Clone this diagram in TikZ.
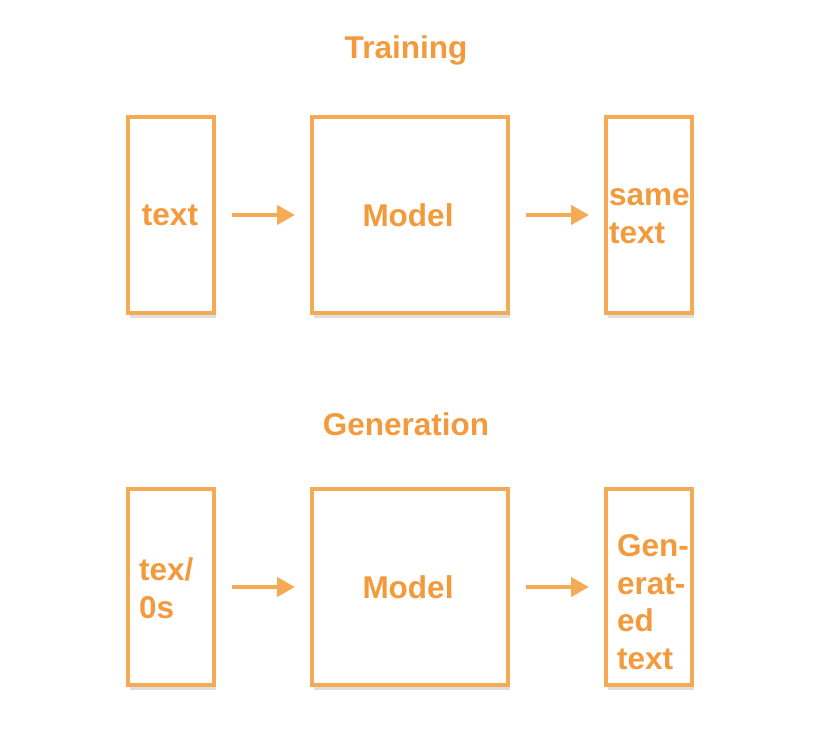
\documentclass[tikz,border=0pt]{standalone}
\usepackage{fontspec}
\setmainfont{Liberation Sans}
\usetikzlibrary{arrows.meta,shadows}
\definecolor{boxline}{HTML}{F5AB56}
\definecolor{boxtext}{HTML}{F29A3C}
\begin{document}
\begin{tikzpicture}[x=1pt,y=-1pt,
  blk/.style={draw=boxline,line width=4pt,fill=white,inner sep=0pt,minimum width=86pt,minimum height=196pt,
    drop shadow={opacity=.25,shadow xshift=2pt,shadow yshift=-4.5pt}},
  bigblk/.style={blk,minimum width=196pt},
  lbl/.style={text=boxtext,font=\bfseries\fontsize{31.5}{37.5}\selectfont,inner sep=0pt,align=left},
  flow/.style={draw=boxline,line width=4pt,-{Triangle[length=18pt,width=19pt]},shorten <=16pt,shorten >=15pt}]
\useasboundingbox (0,0) rectangle (814,754);
% training
\node[lbl] (traintitle) at (406,50) {Training};
\node[blk] (in1) at (171,215) {}; \node[bigblk] (mod1) at (410,215) {}; \node[blk] (out1) at (649,215) {};
\node[lbl] (in1txt) at (170,215) {text}; \node[lbl] (mod1txt) at (408,215) {Model};
\node[lbl,anchor=west] (out1txt) at (609,216) {same\\text};
\draw[flow] (in1) -- (mod1); \draw[flow] (mod1) -- (out1);
% generation
\node[lbl] (gentitle) at (406,424) {Generation};
\node[blk] (in2) at (171,587) {}; \node[bigblk] (mod2) at (410,587) {}; \node[blk] (out2) at (649,587) {};
\node[lbl,anchor=west] (in2txt) at (139,588) {tex/\\0s}; \node[lbl] (mod2txt) at (408,587) {Model};
\node[lbl,anchor=west] (out2txt) at (617,602) {Gen-\\erat-\\ed\\text};
\draw[flow] (in2) -- (mod2); \draw[flow] (mod2) -- (out2);
\end{tikzpicture}
\end{document}
